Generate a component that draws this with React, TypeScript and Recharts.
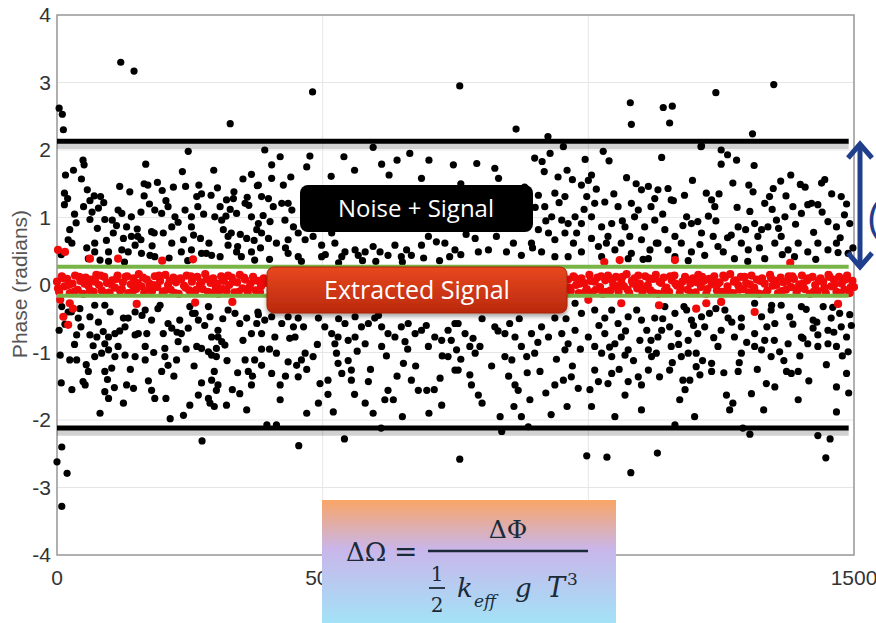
import React from "react";
import {
  CartesianGrid,
  ReferenceArea,
  ReferenceLine,
  Scatter,
  ScatterChart,
  XAxis,
  YAxis,
} from "recharts";

// x ticks / y ticks (the 1000 label sits under the formula card)
const xTicks = [0, 500, 1000, 1500];
const hiddenXLabels = [1000];
const yTicks = [-4, -3, -2, -1, 0, 1, 2, 3, 4];

// threshold bands
const noiseBounds = [2.13, -2.12];
const signalBounds = [0.27, -0.16];

// raw phase samples, black = noise + signal (sample, radians)
const noiseOutliers: [number, number][] = [
  [4, 2.62], [10, 2.53], [12, 2.3], [120, 3.3], [145, 3.17], [326, 2.39], [481, 2.86],
  [758, 2.95], [864, 2.31], [924, 2.2], [1079, 2.7], [1081, 2.38], [1141, 2.63], [1158, 2.65],
  [1153, 2.4], [1240, 2.85], [1349, 2.97], [1309, 2.24], [953, 2.05], [1212, 2.05],
  [0, -2.62], [9, -2.4], [19, -2.79], [9, -3.28], [273, -2.31], [455, -2.38], [541, -2.28],
  [758, -2.58], [997, -2.53], [1035, -2.55], [1080, -2.78], [1130, -2.49], [1304, -2.21],
  [1432, -2.23], [1455, -2.28], [1447, -2.56], [837, -2.17], [887, -2.1], [1291, -2.12],
];

const noiseA: [number, number][] = [
  [49, 1.85], [51, 1.78], [31, 1.7], [16, 1.63], [167, 1.79], [247, 1.98], [46, 1.57], [14, 1.36],
  [14, 1.19], [57, 1.41], [70, 1.32], [82, 1.31], [62, 1.25], [50, 1.16], [78, 1.14], [62, 0.97],
  [164, 1.5], [164, 1.32], [171, 1.48], [198, 1.4], [219, 1.45], [242, 1.46], [267, 1.48],
  [272, 1.35], [290, 1.33], [350, 1.57], [366, 1.64], [377, 1.47], [319, 1.26], [332, 1.28],
  [358, 1.3], [354, 1.21], [307, 1.16], [265, 1.16], [253, 1.01], [241, 1.11], [184, 1.11],
  [197, 1.06], [209, 1.16], [222, 1.01], [104, 0.96], [115, 1.11], [122, 1.06], [140, 1.01],
  [90, 0.97], [131, 0.86], [338, 1.06], [297, 1.01], [310, 0.96], [366, 1.01],
  [24, 0.82], [21, 0.67], [28, 0.62], [76, 0.84], [106, 0.77], [125, 0.69], [140, 0.72],
  [152, 0.72], [158, 0.67], [178, 0.79], [183, 0.77], [200, 0.77], [216, 0.86], [238, 0.67],
  [253, 0.86], [270, 0.69], [313, 0.82], [322, 0.72], [328, 0.77], [340, 0.57], [357, 0.69],
  [376, 0.82], [71, 0.62], [97, 0.49], [71, 0.49], [122, 0.52], [134, 0.49], [147, 0.59],
  [159, 0.47], [175, 0.44], [184, 0.42], [216, 0.62], [234, 0.49], [253, 0.52], [272, 0.47],
  [281, 0.47], [291, 0.44], [307, 0.42], [322, 0.59], [338, 0.49], [347, 0.42], [366, 0.49],
  [372, 0.37], [59, 0.39], [81, 0.37], [97, 0.35],
  [9, -0.32], [27, -0.4], [43, -0.35], [40, -0.49], [21, -0.4], [4, -0.67], [37, -0.74],
  [62, -0.47], [71, -0.3], [90, -0.3], [100, -0.4], [62, -0.74], [75, -0.77], [87, -0.69],
  [97, -0.77], [109, -0.72], [90, -0.87], [97, -0.96], [115, -0.91], [109, -1.06], [84, -1.01],
  [125, -0.49], [134, -0.49], [128, -0.62], [147, -0.4], [153, -0.72], [166, -0.91], [178, -0.52],
  [166, -0.37], [194, -0.3], [209, -0.57], [216, -0.64], [231, -0.52], [234, -0.72], [247, -0.64],
  [260, -0.42], [266, -0.52], [250, -0.32], [288, -0.47], [285, -0.32], [303, -0.67], [291, -0.77],
  [303, -0.77], [316, -0.89], [322, -0.37], [335, -0.42], [344, -0.57], [357, -0.49], [366, -0.72],
  [376, -0.57], [203, -1.06], [209, -1.19], [225, -1.11], [166, -1.11], [147, -1.06], [128, -1.04],
  [71, -1.06], [37, -1.11], [24, -1.11], [6, -1.04], [197, -1.28], [90, -1.28], [103, -1.23],
  [59, -1.28], [49, -1.43], [53, -1.48], [81, -1.9], [90, -1.58], [97, -1.68], [131, -1.48],
  [144, -1.53], [178, -1.56], [184, -1.68], [213, -1.98], [238, -1.93], [250, -1.78], [266, -1.63],
  [285, -1.68], [288, -1.75], [296, -1.8], [291, -1.41], [303, -1.48], [300, -1.56], [319, -1.78],
  [344, -1.61], [357, -1.85], [366, -1.48], [354, -1.11], [372, -1.11], [360, -1.28], [272, -0.94],
  [263, -0.91], [285, -0.99], [291, -1.04], [300, -1.06], [310, -0.84], [300, -0.94], [228, -0.84],
  [203, -0.94], [147, -0.74], [169, -0.72],
];

const noiseB: [number, number][] = [
  [391, 2.0], [476, 1.91], [595, 2.04], [611, 1.79], [664, 1.95], [516, 1.61], [625, 1.63],
  [686, 1.58], [746, 1.78], [404, 1.78], [404, 1.58], [379, 1.48], [426, 1.48], [385, 1.31],
  [398, 1.28], [407, 1.16], [423, 1.21], [435, 1.21], [442, 1.11], [379, 0.91], [401, 0.94],
  [429, 0.96], [445, 0.86], [385, 0.77], [398, 0.69], [413, 0.62], [435, 0.67], [454, 0.77],
  [467, 0.67], [482, 0.72], [498, 0.59], [517, 0.77], [523, 0.62], [542, 0.49], [561, 0.52],
  [580, 0.49], [595, 0.57], [608, 0.49], [623, 0.44], [636, 0.59], [658, 0.52], [667, 0.44],
  [686, 0.59], [699, 0.72], [714, 0.64], [730, 0.62], [749, 0.52], [435, 0.47], [454, 0.42],
  [498, 0.42], [536, 0.42], [567, 0.44], [648, 0.42], [739, 0.42],
  [379, -0.44], [391, -0.52], [404, -0.47], [423, -0.57], [435, -0.47], [454, -0.49], [464, -0.62],
  [385, -0.72], [410, -0.77], [438, -0.79], [448, -0.77], [492, -0.49], [504, -0.62], [517, -0.72],
  [529, -0.77], [542, -0.57], [561, -0.47], [573, -0.62], [586, -0.57], [598, -0.49], [611, -0.62],
  [623, -0.72], [636, -0.77], [648, -0.62], [661, -0.57], [674, -0.72], [686, -0.67], [711, -0.77],
  [724, -0.82], [736, -0.67], [749, -0.57], [523, -0.87], [548, -0.82], [561, -0.77], [580, -0.87],
  [611, -0.91], [655, -0.84], [699, -0.91], [413, -1.01], [435, -1.14], [467, -1.01], [482, -1.06],
  [451, -1.19], [385, -1.19], [404, -1.31], [420, -1.48], [454, -1.36], [460, -1.11], [495, -1.46],
  [510, -1.41], [526, -1.01], [529, -1.16], [536, -1.31], [554, -1.26], [554, -1.41], [586, -1.43],
  [623, -1.56], [633, -1.7], [652, -1.16], [667, -1.41], [680, -1.56], [696, -1.56], [721, -1.38],
  [736, -1.06], [749, -1.26], [492, -1.75], [520, -1.88], [580, -1.75], [595, -1.9], [617, -1.7],
  [724, -1.78], [395, -2.07], [413, -2.07], [610, -2.12],
];

const noiseC: [number, number][] = [
  [899, 1.88], [913, 1.83], [928, 1.95], [994, 1.86], [1028, 1.98], [1039, 1.84], [824, 1.73],
  [831, 1.58], [917, 1.68], [943, 1.6], [970, 1.56], [987, 1.48], [1000, 1.55], [1006, 1.63],
  [1072, 1.59], [1100, 1.41], [1113, 1.46], [1125, 1.28], [906, 1.33], [937, 1.36], [956, 1.31],
  [997, 1.31], [1012, 1.21], [1031, 1.23], [1056, 1.16], [1081, 1.21], [1094, 1.11], [918, 1.16],
  [931, 1.01], [950, 0.96], [962, 0.91], [975, 1.01], [987, 0.91], [1006, 1.01], [1025, 0.86],
  [1044, 0.91], [1069, 0.86], [1087, 1.01], [1106, 0.86], [1125, 0.96], [906, 0.82], [925, 0.77],
  [937, 0.67], [956, 0.77], [972, 0.62], [987, 0.49], [1006, 0.69], [1019, 0.57], [1037, 0.72],
  [1050, 0.52], [1062, 0.62], [1081, 0.47], [1100, 0.67], [1116, 0.52], [1128, 0.62], [787, 0.69],
  [793, 0.49], [812, 0.52], [827, 0.72], [846, 0.49], [859, 0.62], [874, 0.44], [893, 0.62],
  [912, 0.49], [937, 0.42], [962, 0.42], [1025, 0.42], [1075, 0.39], [1113, 0.39],
  [975, -0.27], [987, -0.42], [1012, -0.37], [1031, -0.49], [1044, -0.37], [1056, -0.57],
  [1075, -0.47], [1091, -0.37], [1100, -0.52], [1110, -0.67], [1125, -0.49], [1131, -0.77],
  [755, -0.57], [768, -0.72], [783, -0.79], [796, -0.91], [824, -0.62], [843, -0.72], [852, -0.57],
  [862, -0.77], [874, -0.91], [893, -0.72], [912, -0.62], [925, -0.77], [937, -0.49], [950, -0.72],
  [962, -0.87], [975, -0.67], [1000, -0.77], [1012, -0.91], [1031, -0.72], [1050, -0.87],
  [1062, -0.77], [1075, -0.96], [1097, -0.82], [1113, -0.96], [752, -0.96], [777, -0.91],
  [787, -1.01], [843, -1.06], [856, -1.11], [884, -1.06], [899, -1.01], [956, -0.96], [1025, -1.01],
  [1044, -1.06], [1069, -1.04], [1119, -1.06], [755, -1.26], [777, -1.33], [793, -1.63], [862, -1.48],
  [868, -1.56], [909, -1.28], [953, -1.41], [968, -1.36], [937, -1.48], [981, -1.53], [1012, -1.26],
  [1019, -1.43], [1037, -1.46], [1044, -1.31], [1075, -1.43], [1094, -1.36], [1113, -1.26],
  [890, -1.7], [1006, -1.8], [1069, -1.63], [834, -1.95], [874, -1.95],
];

const noiseD: [number, number][] = [
  [1213, 2.06], [1138, 1.89], [1250, 2.0], [1262, 1.93], [1279, 1.85], [1250, 1.79], [1312, 1.77],
  [1272, 1.51], [1302, 1.48], [1381, 1.63], [1362, 1.54], [1348, 1.43], [1332, 1.21], [1341, 1.31],
  [1399, 1.49], [1420, 1.21], [1439, 1.51], [1445, 1.56], [1476, 1.31], [1131, 1.41], [1150, 1.43],
  [1156, 1.26], [1181, 1.33], [1222, 1.36], [1232, 1.26], [1238, 1.16], [1185, 1.01], [1194, 0.91],
  [1206, 0.94], [1304, 1.09], [1313, 0.91], [1326, 0.82], [1338, 0.86], [1354, 0.96], [1370, 1.01],
  [1385, 1.16], [1401, 1.06], [1413, 1.19], [1432, 1.19], [1451, 0.94], [1467, 0.86], [1482, 1.04],
  [1492, 0.91], [1144, 0.82], [1163, 0.72], [1175, 0.62], [1213, 0.77], [1235, 0.72], [1244, 0.57],
  [1254, 0.49], [1269, 0.74], [1282, 0.86], [1288, 0.62], [1301, 0.52], [1319, 0.72], [1351, 0.62],
  [1363, 0.72], [1376, 0.52], [1395, 0.62], [1413, 0.49], [1432, 0.62], [1451, 0.52], [1467, 0.62],
  [1489, 0.47], [1194, 0.49], [1219, 0.44], [1131, 0.62], [1163, 0.42], [1275, 0.39], [1332, 0.39],
  [1388, 0.42],
  [1144, -0.32], [1163, -0.42], [1185, -0.37], [1194, -0.52], [1213, -0.47], [1228, -0.42],
  [1257, -0.37], [1263, -0.49], [1288, -0.49], [1313, -0.27], [1326, -0.47], [1344, -0.37],
  [1363, -0.3], [1379, -0.47], [1401, -0.32], [1423, -0.52], [1442, -0.32], [1457, -0.49],
  [1473, -0.42], [1492, -0.44], [1138, -0.67], [1153, -0.62], [1169, -0.72], [1188, -0.82],
  [1206, -0.72], [1219, -0.62], [1250, -0.67], [1275, -0.77], [1288, -0.62], [1313, -0.72],
  [1332, -0.82], [1351, -0.57], [1376, -0.87], [1401, -0.77], [1423, -0.64], [1432, -0.74],
  [1451, -0.67], [1476, -0.62], [1486, -0.77], [1128, -1.01], [1156, -0.91], [1175, -1.06],
  [1188, -1.01], [1203, -1.01], [1244, -0.91], [1288, -1.01], [1313, -0.91], [1326, -0.96],
  [1344, -1.06], [1360, -0.99], [1404, -0.79], [1413, -0.87], [1432, -0.91], [1451, -0.87],
  [1467, -0.91], [1489, -0.99], [1134, -1.36], [1153, -1.26], [1178, -1.41], [1191, -1.41],
  [1203, -1.21], [1210, -1.33], [1232, -1.16], [1232, -1.28], [1282, -1.28], [1373, -1.28],
  [1382, -1.31], [1395, -1.28], [1335, -1.46], [1351, -1.51], [1486, -1.31], [1172, -1.7],
  [1260, -1.63], [1272, -1.75], [1266, -1.85], [1307, -1.61], [1467, -1.51], [1467, -1.88],
  [1163, -2.07],
];

// extra samples in the dense part of the cloud
const noiseUpper: [number, number][] = [
  [8, 0.45], [33, 1.05], [56, 0.55], [88, 1.22], [112, 0.88], [137, 1.38], [158, 1.08], [179, 0.58],
  [205, 1.25], [228, 0.93], [246, 0.36], [263, 1.31], [286, 0.62], [302, 1.44], [318, 1.02],
  [345, 0.75], [361, 1.18], [383, 0.55], [36, 0.92], [93, 0.66], [118, 1.46], [151, 0.83],
  [189, 1.52], [211, 0.4], [257, 0.74], [276, 1.05], [333, 1.38], [371, 0.66], [20, 1.28],
  [66, 1.08], [127, 0.34], [174, 1.2], [236, 1.68], [295, 1.7], [326, 1.12], [388, 1.03],
  [400, 0.38], [430, 0.55], [460, 0.35], [505, 0.45], [530, 0.33], [575, 0.36], [600, 0.35],
  [650, 0.34], [690, 0.4], [720, 0.36], [760, 0.45], [780, 0.95], [800, 1.25], [815, 0.84],
  [850, 1.02], [880, 1.45], [900, 1.15], [760, 1.5], [770, 0.75], [790, 1.8], [835, 1.35],
  [865, 0.86], [895, 0.55], [920, 0.95], [945, 1.22], [960, 1.7], [978, 0.77], [992, 1.12],
  [1015, 1.42], [1034, 0.62], [1048, 1.35], [1064, 0.95], [1078, 0.72], [1090, 1.5], [1103, 0.38],
  [1118, 1.16], [1140, 1.05], [1160, 1.25], [1178, 0.88], [1196, 1.55], [1210, 0.6], [1226, 1.02],
  [1246, 1.35], [1262, 0.7], [1280, 1.15], [1296, 0.82], [1310, 1.38], [1322, 0.55], [1346, 1.12],
  [1358, 0.84], [1372, 1.32], [1390, 0.9], [1408, 1.45], [1424, 0.78], [1440, 1.08], [1458, 1.35],
  [1474, 0.7], [1486, 1.2], [1498, 0.55], [1150, 0.52], [1188, 0.36], [1240, 0.95], [1300, 0.35],
  [1365, 0.45], [1428, 0.38], [1470, 0.48], [640, 1.85], [560, 1.7], [540, 1.9], [470, 1.75],
  [440, 1.6], [420, 1.9], [700, 1.85],
];

const noiseLower: [number, number][] = [
  [15, -0.58], [33, -0.88], [55, -1.18], [78, -0.55], [95, -1.4], [118, -0.68], [138, -1.25],
  [160, -0.45], [182, -1.0], [200, -0.72], [220, -1.35], [243, -0.95], [258, -1.2], [278, -0.6],
  [296, -1.28], [312, -0.5], [330, -1.55], [350, -0.82], [368, -1.35], [385, -0.95], [28, -1.55],
  [68, -0.9], [108, -1.52], [172, -1.42], [190, -0.35], [226, -0.7], [272, -1.45], [340, -1.3],
  [378, -0.4], [8, -1.45], [45, -0.62], [125, -1.75], [205, -1.68], [255, -0.42], [320, -1.12],
  [400, -0.95], [420, -1.7], [445, -0.62], [470, -1.25], [490, -0.88], [510, -1.62], [530, -0.5],
  [548, -1.12], [565, -0.98], [590, -1.25], [605, -0.45], [620, -1.05], [640, -1.35], [660, -0.95],
  [675, -1.2], [695, -0.6], [710, -1.55], [725, -1.05], [742, -0.82], [760, -1.1], [780, -1.48],
  [800, -0.5], [818, -1.2], [830, -0.68], [850, -1.35], [870, -0.5], [885, -1.3], [905, -0.85],
  [920, -1.6], [940, -1.1], [958, -0.5], [970, -1.2], [985, -0.95], [1003, -1.55], [1020, -0.6],
  [1040, -0.92], [1058, -1.25], [1070, -0.68], [1085, -1.12], [1100, -1.48], [1118, -0.82],
  [1140, -0.5], [1158, -1.15], [1170, -0.88], [1182, -1.55], [1198, -0.6], [1215, -1.12],
  [1236, -0.78], [1255, -1.3], [1270, -0.55], [1284, -1.15], [1298, -0.85], [1318, -1.25],
  [1336, -0.62], [1350, -0.82], [1368, -1.12], [1385, -0.58], [1398, -1.05], [1415, -1.42],
  [1430, -0.55], [1448, -1.18], [1462, -0.7], [1478, -1.05], [1495, -0.6], [1180, -0.32],
  [1240, -0.35], [1345, -0.3], [1410, -0.36], [1460, -0.33], [1490, -1.6], [1395, -1.7],
  [1330, -1.85], [1200, -1.95], [1100, -1.85], [1050, -1.95], [960, -1.8], [930, -1.92],
  [860, -1.8], [800, -1.75], [700, -1.9], [650, -1.95], [560, -1.62], [470, -1.9], [430, -1.35],
];

// extracted signal, red
const signalLeft: [number, number][] = [
  [0, 0.05], [4, -0.1], [9, 0.13], [14, -0.02], [19, 0.09], [24, -0.12], [29, 0.02], [34, 0.14],
  [39, -0.07], [44, 0.06], [49, -0.13], [54, 0.11], [59, -0.01], [64, 0.08], [69, -0.1], [74, 0.15],
  [79, 0.0], [84, -0.08], [89, 0.12], [94, 0.03], [99, -0.11], [104, 0.07], [109, -0.04], [114, 0.14],
  [119, -0.09], [124, 0.04], [129, 0.12], [134, -0.12], [139, 0.01], [144, 0.1], [149, -0.06],
  [154, 0.16], [159, -0.02], [164, -0.12], [169, 0.08], [174, 0.02], [179, -0.09], [184, 0.13],
  [189, -0.03], [194, 0.06], [199, -0.11], [204, 0.15], [209, 0.0], [214, -0.07], [219, 0.11],
  [224, 0.04], [229, -0.13], [234, 0.09], [239, -0.01], [244, 0.14], [249, -0.08], [254, 0.05],
  [259, -0.12], [264, 0.12], [269, 0.01], [274, -0.06], [279, 0.16], [284, -0.1], [289, 0.03],
  [294, 0.1], [299, -0.04], [304, -0.13], [309, 0.13], [314, 0.06], [319, -0.09], [324, 0.0],
  [329, 0.11], [334, -0.11], [339, 0.04], [344, 0.15], [349, -0.05], [354, 0.08], [359, -0.12],
  [364, 0.02], [369, 0.12], [374, -0.08], [379, 0.06], [384, -0.02], [389, 0.1],
  [2, -0.05], [12, 0.1], [22, 0.0], [32, -0.1], [42, 0.12], [52, 0.02], [62, -0.08], [72, 0.05],
  [82, 0.14], [92, -0.12], [102, 0.01], [112, 0.09], [122, -0.06], [132, 0.13], [142, -0.1],
  [152, 0.03], [162, 0.11], [172, -0.07], [182, 0.0], [192, 0.14], [202, -0.09], [212, 0.06],
  [222, -0.12], [232, 0.1], [242, -0.04], [252, 0.13], [262, -0.07], [272, 0.04], [282, 0.09],
  [292, -0.12], [302, 0.02], [312, -0.06], [322, 0.14], [332, 0.05], [342, -0.1], [352, 0.11],
  [362, -0.04], [372, 0.07], [382, -0.11], [392, 0.03],
];

const signalRight: [number, number][] = [
  [962, 0.08], [967, -0.09], [972, 0.13], [977, 0.0], [982, -0.12], [987, 0.1], [992, 0.03],
  [997, -0.06], [1002, 0.15], [1007, -0.11], [1012, 0.05], [1017, 0.11], [1022, -0.03], [1027, -0.13],
  [1032, 0.07], [1037, 0.14], [1042, -0.08], [1047, 0.01], [1052, 0.12], [1057, -0.1], [1062, 0.04],
  [1067, -0.02], [1072, 0.16], [1077, -0.12], [1082, 0.06], [1087, 0.1], [1092, -0.05], [1097, 0.02],
  [1102, -0.11], [1107, 0.13], [1112, 0.0], [1117, -0.08], [1122, 0.09], [1127, 0.15], [1132, -0.13],
  [1137, 0.03], [1142, 0.11], [1147, -0.04], [1152, -0.1], [1157, 0.07], [1162, 0.14], [1167, -0.01],
  [1172, -0.12], [1177, 0.05], [1182, 0.12], [1187, -0.07], [1192, 0.02], [1197, 0.1], [1202, -0.11],
  [1207, 0.15], [1212, -0.03], [1217, 0.06], [1222, -0.13], [1227, 0.09], [1232, 0.01], [1237, 0.13],
  [1242, -0.08], [1247, 0.04], [1252, -0.1], [1257, 0.11], [1262, -0.02], [1267, 0.16], [1272, -0.12],
  [1277, 0.07], [1282, 0.0], [1287, 0.12], [1292, -0.06], [1297, 0.03], [1302, -0.11], [1307, 0.14],
  [1312, -0.04], [1317, 0.08], [1322, -0.13], [1327, 0.1], [1332, 0.02], [1337, -0.08], [1342, 0.15],
  [1347, -0.01], [1352, 0.06], [1357, -0.12], [1362, 0.11], [1367, 0.04], [1372, -0.07], [1377, 0.13],
  [1382, -0.03], [1387, 0.09], [1392, -0.11], [1397, 0.01], [1402, 0.14], [1407, -0.06], [1412, 0.07],
  [1417, -0.13], [1422, 0.12], [1427, 0.0], [1432, -0.09], [1437, 0.1], [1442, 0.05], [1447, -0.12],
  [1452, 0.15], [1457, -0.02], [1462, 0.08], [1467, -0.1], [1472, 0.12], [1477, 0.02], [1482, -0.07],
  [1487, 0.14], [1492, -0.12], [1497, 0.06], [1500, -0.03],
  [964, -0.04], [974, 0.11], [984, 0.02], [994, -0.1], [1004, 0.06], [1014, -0.07], [1024, 0.13],
  [1034, -0.1], [1044, 0.08], [1054, -0.03], [1064, 0.12], [1074, -0.07], [1084, 0.02], [1094, 0.14],
  [1104, -0.06], [1114, 0.1], [1124, -0.12], [1134, 0.05], [1144, -0.08], [1154, 0.13], [1164, 0.02],
  [1174, -0.05], [1184, 0.09], [1194, -0.12], [1204, 0.04], [1214, 0.12], [1224, -0.06], [1234, 0.08],
  [1244, 0.02], [1254, 0.14], [1264, -0.1], [1274, 0.05], [1284, -0.07], [1294, 0.12], [1304, 0.01],
  [1314, -0.1], [1324, 0.06], [1334, -0.12], [1344, 0.1], [1354, 0.0], [1364, -0.09], [1374, 0.05],
  [1384, 0.13], [1394, -0.06], [1404, 0.02], [1414, 0.1], [1424, -0.1], [1434, 0.06], [1444, -0.04],
  [1454, 0.12], [1464, 0.01], [1474, -0.12], [1484, 0.08], [1494, -0.03],
];

const signalOutliers: [number, number][] = [
  [2, 0.52], [15, 0.49], [62, 0.39], [115, 0.39], [198, 0.36], [256, 0.38], [6, -0.22], [24, -0.27],
  [21, -0.59], [12, -0.47], [30, -0.35], [150, -0.28], [260, -0.26], [330, -0.25], [1000, -0.22],
  [1030, 0.34], [1059, 0.37], [1062, -0.27], [1133, -0.3], [1163, 0.37], [1203, -0.35], [1222, -0.27],
  [1250, -0.25], [1313, -0.4], [1380, 0.33], [1470, -0.28],
];

const toRows = (pts: [number, number][]) => pts.map(([x, y]) => ({ x, y }));

const noiseData = toRows([
  ...noiseA, ...noiseB, ...noiseC, ...noiseD, ...noiseUpper, ...noiseLower, ...noiseOutliers,
]);
const signalData = toRows([...signalOutliers, ...signalLeft, ...signalRight]);

const W = 876;
const H = 623;
const navy = "#1f3e8c";
const tickFont = "'Liberation Sans', Arial, sans-serif";

function XTick({ x, y, payload }: any) {
  if (hiddenXLabels.includes(payload.value)) return <g />;
  return (
    <text x={x} y={y + 22} textAnchor="middle" fontSize={21} fontFamily={tickFont} fill="#333">
      {payload.value}
    </text>
  );
}

function YTick({ x, y, payload }: any) {
  return (
    <text x={x + 2} y={y + 7} textAnchor="end" fontSize={21} fontFamily={tickFont} fill="#333">
      {payload.value}
    </text>
  );
}

function Overlay() {
  return (
    <svg
      width={W}
      height={H}
      style={{ position: "absolute", left: 0, top: 0, pointerEvents: "none" }}
    >
      <defs>
        <linearGradient id="redBox" x1="0" y1="0" x2="0" y2="1">
          <stop offset="0%" stopColor="#e8481f" />
          <stop offset="100%" stopColor="#b9290d" />
        </linearGradient>
        <linearGradient id="formulaBox" x1="0" y1="0" x2="0" y2="1">
          <stop offset="0%" stopColor="#f9a566" />
          <stop offset="40%" stopColor="#c9b6ea" />
          <stop offset="100%" stopColor="#a3e2f7" />
        </linearGradient>
        <filter id="boxShadow" x="-10%" y="-20%" width="120%" height="160%">
          <feDropShadow dx="0" dy="3" stdDeviation="2" floodColor="#000" floodOpacity="0.35" />
        </filter>
      </defs>

      {/* axis label */}
      <text
        transform="translate(27,284) rotate(-90)"
        textAnchor="middle"
        fontSize={21}
        fontFamily={tickFont}
        fill="#555"
      >
        Phase (radians)
      </text>

      {/* annotation boxes */}
      <rect x={300} y={185} width={233} height={47} rx={8} fill="#000" />
      <text x={416} y={217} textAnchor="middle" fontSize={24} fontFamily="'Open Sans', 'Noto Sans', sans-serif" fill="#fff">
        Noise + Signal
      </text>

      <rect x={267} y={267} width={300} height={46} rx={7} fill="url(#redBox)" stroke="#a5260c" filter="url(#boxShadow)" />
      <text x={417} y={299} textAnchor="middle" fontSize={25} fontFamily="'Open Sans', 'Noto Sans', sans-serif" fill="#fff">
        Extracted Signal
      </text>

      {/* range arrow */}
      <line x1={860} y1={147} x2={860} y2={264} stroke={navy} strokeWidth={5} />
      <polyline points="848,158 860,144 872,158" fill="none" stroke={navy} strokeWidth={5} strokeLinejoin="miter" />
      <polyline points="848,253 860,267 872,253" fill="none" stroke={navy} strokeWidth={5} strokeLinejoin="miter" />
      <text x={868} y={232} fontSize={42} fontFamily="'Open Sans', sans-serif" fill={navy}>
        (
      </text>

      {/* formula */}
      <rect x={322} y={500} width={294} height={123} fill="url(#formulaBox)" />
      <g fontFamily="'DejaVu Serif', 'Liberation Serif', serif" fill="#1b2a38">
        <text x={346} y={561} fontSize={26}>ΔΩ</text>
        <text x={394} y={561} fontSize={28}>=</text>
        <text x={508} y={538} fontSize={25} textAnchor="middle">ΔΦ</text>
        <line x1={428} y1={551} x2={588} y2={551} stroke="#1b2a38" strokeWidth={2.5} />
        <text x={437} y={581} fontSize={20} textAnchor="middle">1</text>
        <line x1={429} y1={588} x2={445} y2={588} stroke="#1b2a38" strokeWidth={1.8} />
        <text x={437} y={612} fontSize={20} textAnchor="middle">2</text>
        <text x={457} y={597} fontSize={26} fontStyle="italic">k</text>
        <text x={474} y={607} fontSize={17} fontStyle="italic">eff</text>
        <text x={515} y={597} fontSize={26} fontStyle="italic">g</text>
        <text x={547} y={597} fontSize={27} fontStyle="italic">T</text>
        <text x={567} y={585} fontSize={17}>3</text>
      </g>
    </svg>
  );
}

const blackDot = (p: any) => <circle cx={p.cx} cy={p.cy} r={3.6} fill="#000" />;
const redDot = (p: any) => <circle cx={p.cx} cy={p.cy} r={4.1} fill="#f00a0a" />;

export default function App() {
  return (
    <div style={{ position: "absolute", left: 0, top: 0, width: W, height: H, background: "#fff" }}>
      <ScatterChart width={W} height={H} margin={{ top: 15, right: 22, bottom: 38, left: 10 }}>
        <CartesianGrid stroke="#e6e6e6" strokeWidth={1} />
        <XAxis
          dataKey="x"
          type="number"
          domain={[0, 1500]}
          ticks={xTicks}
          axisLine={false}
          tickLine={false}
          height={30}
          tick={<XTick />}
          interval={0}
        />
        <YAxis
          dataKey="y"
          type="number"
          domain={[-4, 4]}
          ticks={yTicks}
          axisLine={false}
          tickLine={false}
          width={47}
          tick={<YTick />}
          interval={0}
        />
        <ReferenceArea x1={0} x2={1500} y1={-4} y2={4} fill="none" stroke="#9a9a9a" strokeWidth={1.5} />
        <Scatter data={noiseData} shape={blackDot} isAnimationActive={false} />
        <Scatter data={signalData} shape={redDot} isAnimationActive={false} />
        {signalBounds.map((v) => (
          <ReferenceLine
            key={`g${v}`}
            segment={[{ x: 0, y: v }, { x: 1490, y: v }]}
            stroke="#78b446"
            strokeWidth={4}
            zIndex={700}
          />
        ))}
        {noiseBounds.map((v) => (
          <ReferenceLine
            key={`s${v}`}
            segment={[{ x: 0, y: v - 0.07 }, { x: 1490, y: v - 0.07 }]}
            stroke="#000"
            strokeOpacity={0.18}
            strokeWidth={6}
            zIndex={700}
          />
        ))}
        {noiseBounds.map((v) => (
          <ReferenceLine
            key={`b${v}`}
            segment={[{ x: 0, y: v }, { x: 1490, y: v }]}
            stroke="#000"
            strokeWidth={5}
            zIndex={700}
          />
        ))}
      </ScatterChart>
      <Overlay />
    </div>
  );
}
